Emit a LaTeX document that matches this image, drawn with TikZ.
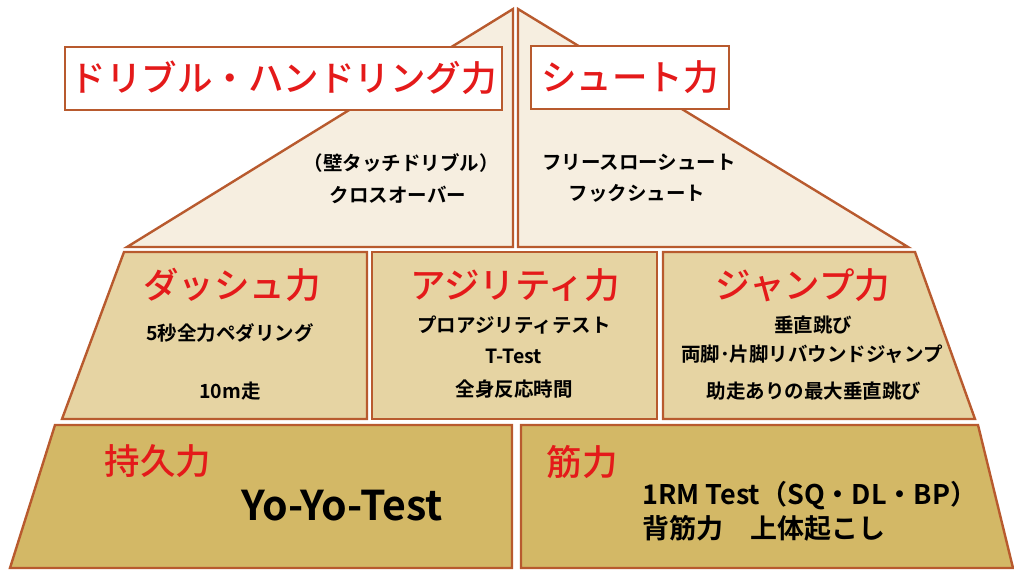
\documentclass[tikz,border=0pt]{standalone}
\usepackage{fontspec}
\newfontfamily\jp{Noto Sans CJK JP Medium}
\newfontfamily\jpb{Noto Sans CJK JP Bold}
\definecolor{edge}{HTML}{B85A2E}
\definecolor{tierA}{HTML}{F6EEE0}
\definecolor{tierB}{HTML}{E6D4A3}
\definecolor{tierC}{HTML}{D3B866}
\definecolor{headred}{HTML}{E41A1A}
\tikzset{
  panel/.style={draw=edge, line width=2.4pt, line join=miter},
  titlebox/.style={draw=edge, line width=2.4pt, fill=white, inner sep=0pt, minimum height=63pt},
  head/.style={text=headred, font=\jp\fontsize{35.5}{40}\selectfont, inner sep=0pt},
  body/.style={text=black, font=\jpb\fontsize{19.5}{22}\selectfont, inner sep=0pt},
  bigbody/.style={text=black, font=\jpb\fontsize{27}{30}\selectfont, inner sep=0pt, anchor=west},
}
\begin{document}
\begin{tikzpicture}[x=1pt, y=-1pt]
\useasboundingbox (0,0) rectangle (1014,571);
% top tier
\draw[panel, fill=tierA] (513,9) -- (127,247) -- (513,247) -- cycle;
\draw[panel, fill=tierA] (518,9) -- (908,247) -- (518,247) -- cycle;
% middle tier
\draw[panel, fill=tierB] (124,252) -- (367,252) -- (367,419) -- (62,419) -- cycle;
\draw[panel, fill=tierB] (372,252) -- (657,252) -- (657,419) -- (372,419) -- cycle;
\draw[panel, fill=tierB] (663,252) -- (915,252) -- (975,419) -- (663,419) -- cycle;
% bottom tier
\draw[panel, fill=tierC] (55,425) -- (512,425) -- (512,568) -- (10,568) -- cycle;
\draw[panel, fill=tierC] (521,425) -- (978,425) -- (1013,568) -- (521,568) -- cycle;
% title boxes
\node[titlebox, minimum width=437pt] (dribble) at (283.5,78.5) {};
\node[head] (dribbleT) at (283.5,78) {ドリブル・ハンドリング力};
\node[titlebox, minimum width=198pt] (shoot) at (630,77.5) {};
\node[head] (shootT) at (630,77) {シュート力};
% top texts
\node[body] (d1) at (401,163) {（壁タッチドリブル）};
\node[body] (d2) at (398,195) {クロスオーバー};
\node[body] (s1) at (639,162) {フリースローシュート};
\node[body] (s2) at (637,193) {フックシュート};
% middle texts
\node[head] (dash) at (232,285) {ダッシュ力};
\node[body] (dash1) at (230,333) {5秒全力ペダリング};
\node[body] (dash2) at (230,391) {10m走};
\node[head] (agi) at (515,285) {アジリティ力};
\node[body] (agi1) at (514,325) {プロアジリティテスト};
\node[body] (agi2) at (514,356) {T-Test};
\node[body] (agi3) at (514,389) {全身反応時間};
\node[head] (jump) at (803,285) {ジャンプ力};
\node[body] (jump1) at (813,325) {垂直跳び};
\node[body] (jump2) at (812,354) {両脚･片脚リバウンドジャンプ};
\node[body] (jump3) at (814,391) {助走ありの最大垂直跳び};
% bottom texts
\node[head] (endu) at (158,461) {持久力};
\node[text=black, font=\jpb\fontsize{41}{44}\selectfont, inner sep=0pt] (yoyo) at (342,506) {Yo-Yo-Test};
\node[head] (str) at (582,462) {筋力};
\node[bigbody] (str1) at (642,496) {1RM Test（SQ・DL・BP）};
\node[bigbody] (str2) at (642,528) {背筋力　上体起こし};
\end{tikzpicture}
\end{document}
